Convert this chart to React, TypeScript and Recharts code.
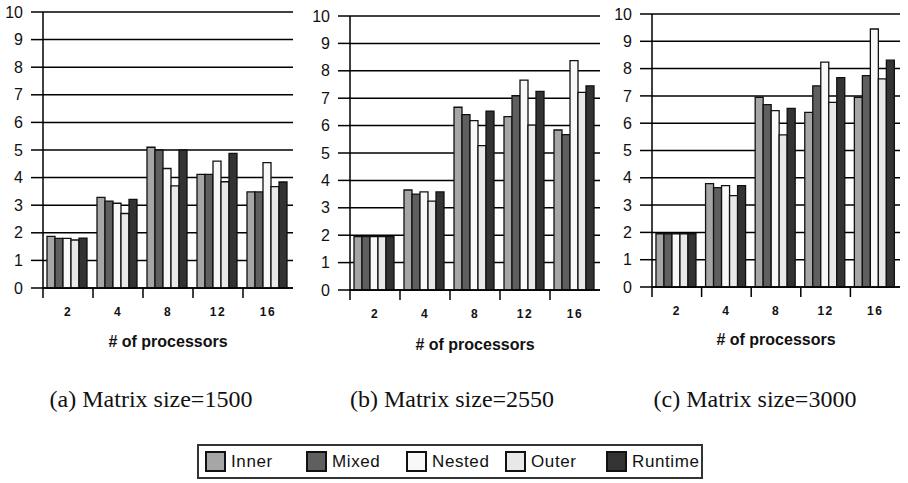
import React from "react";
import { BarChart, Bar, XAxis, YAxis, CartesianGrid, Label } from "recharts";

const PROCESSORS = ["2", "4", "8", "12", "16"];
const SERIES = ["Inner", "Mixed", "Nested", "Outer", "Runtime"];
const COLORS = ["#a6a6a6", "#5f5f5f", "#f8f8f8", "#e8e8e8", "#333333"];
const Y_TICKS = [0, 1, 2, 3, 4, 5, 6, 7, 8, 9, 10];

// Matrix size 1500
const INNER_1500 = [1.87, 3.28, 5.1, 4.12, 3.48];
const MIXED_1500 = [1.8, 3.15, 5.0, 4.12, 3.48];
const NESTED_1500 = [1.8, 3.07, 4.33, 4.6, 4.54];
const OUTER_1500 = [1.74, 2.7, 3.7, 3.85, 3.67];
const RUNTIME_1500 = [1.81, 3.21, 5.0, 4.88, 3.84];

// Matrix size 2550
const INNER_2550 = [1.95, 3.65, 6.67, 6.33, 5.84];
const MIXED_2550 = [1.95, 3.5, 6.4, 7.09, 5.67];
const NESTED_2550 = [1.95, 3.58, 6.18, 7.66, 8.37];
const OUTER_2550 = [1.95, 3.24, 5.27, 6.02, 7.21];
const RUNTIME_2550 = [1.95, 3.58, 6.53, 7.25, 7.45];

// Matrix size 3000
const INNER_3000 = [1.95, 3.79, 6.95, 6.4, 6.95];
const MIXED_3000 = [1.95, 3.64, 6.68, 7.37, 7.74];
const NESTED_3000 = [1.95, 3.71, 6.46, 8.24, 9.45];
const OUTER_3000 = [1.95, 3.35, 5.57, 6.76, 7.62];
const RUNTIME_3000 = [1.95, 3.71, 6.54, 7.67, 8.31];

const rows = (cols: number[][]) =>
  PROCESSORS.map((p, i) => {
    const row: Record<string, string | number> = { p };
    SERIES.forEach((s, k) => (row[s] = cols[k][i]));
    return row;
  });

const PANELS = [
  {
    caption: "(a) Matrix size=1500",
    data: rows([INNER_1500, MIXED_1500, NESTED_1500, OUTER_1500, RUNTIME_1500]),
    left: 0, width: 300, top: 12, bottom: 288, labelOffset: 13, captionX: 151,
  },
  {
    caption: "(b) Matrix size=2550",
    data: rows([INNER_2550, MIXED_2550, NESTED_2550, OUTER_2550, RUNTIME_2550]),
    left: 307, width: 300, top: 16, bottom: 290, labelOffset: 10, captionX: 452,
  },
  {
    caption: "(c) Matrix size=3000",
    data: rows([INNER_3000, MIXED_3000, NESTED_3000, OUTER_3000, RUNTIME_3000]),
    left: 609, width: 298, top: 14, bottom: 287, labelOffset: 15, captionX: 755,
  },
];

const CHART_H = 360;
const AXIS_W = 43;
const RIGHT_M = 7;
const FONT = "'Liberation Sans', Arial, sans-serif";

const ProcTick = ({ x, payload, step, base }: any) => (
  <g>
    <line x1={x - step / 2} x2={x - step / 2} y1={base} y2={base + 10} stroke="#000" strokeWidth={1.5} />
    <text x={x} y={base + 28} textAnchor="middle" fontSize={12} fontWeight="bold" letterSpacing={1.5} fill="#111" fontFamily={FONT}>
      {payload.value}
    </text>
  </g>
);

const Panel = ({ panel }: any) => {
  const plotW = panel.width - AXIS_W - RIGHT_M;
  const step = plotW / PROCESSORS.length;
  return (
    <div style={{ position: "absolute", left: panel.left, top: 0 }}>
      <BarChart
        width={panel.width}
        height={CHART_H}
        data={panel.data}
        margin={{ top: panel.top, right: RIGHT_M, bottom: 0, left: 0 }}
        barCategoryGap="8%"
        barGap={0}
      >
        <CartesianGrid vertical={false} stroke="#000" strokeWidth={1.5} />
        <XAxis
          dataKey="p"
          height={CHART_H - panel.bottom}
          interval={0}
          axisLine={{ stroke: "#000", strokeWidth: 1.5 }}
          tickLine={false}
          tick={(p: any) => <ProcTick {...p} step={step} base={panel.bottom} />}
        >
          <Label
            value="# of processors"
            position="insideBottom"
            offset={panel.labelOffset}
            style={{ fontSize: 16, fontWeight: "bold", fill: "#111", fontFamily: FONT }}
          />
        </XAxis>
        <YAxis
          width={AXIS_W}
          domain={[0, 10]}
          ticks={Y_TICKS}
          interval={0}
          tickSize={12}
          tickMargin={8}
          axisLine={{ stroke: "#000", strokeWidth: 1.5 }}
          tickLine={{ stroke: "#000", strokeWidth: 1.5 }}
          tick={{ fontSize: 16, fill: "#111", fontFamily: FONT }}
        />
        {SERIES.map((s, k) => (
          <Bar key={s} dataKey={s} fill={COLORS[k]} stroke="#111" strokeWidth={1.3} isAnimationActive={false} />
        ))}
      </BarChart>
      <div
        style={{
          position: "absolute",
          top: 387,
          left: panel.captionX - panel.left - 130,
          width: 260,
          textAlign: "center",
          fontFamily: "'Liberation Serif', 'Times New Roman', serif",
          fontSize: 24,
          lineHeight: "24px",
          color: "#111",
        }}
      >
        {panel.caption}
      </div>
    </div>
  );
};

const LEGEND_X = [6, 107, 207, 306, 407];

export default function App() {
  return (
    <div style={{ position: "absolute", left: 0, top: 0, width: 908, height: 483, background: "#fff" }}>
      {PANELS.map((panel) => (
        <Panel key={panel.caption} panel={panel} />
      ))}
      <div
        style={{
          position: "absolute",
          left: 197,
          top: 444,
          width: 506,
          height: 35,
          boxSizing: "border-box",
          border: "2px solid #333",
          fontFamily: FONT,
          fontSize: 17,
          letterSpacing: 0.6,
          color: "#111",
        }}
      >
        {SERIES.map((s, k) => (
          <div key={s} style={{ position: "absolute", left: LEGEND_X[k], top: 5, display: "flex", alignItems: "center", height: 21 }}>
            <span
              style={{
                display: "inline-block",
                width: 17,
                height: 17,
                background: COLORS[k],
                border: "2px solid #111",
                marginRight: 5,
              }}
            />
            <span>{s}</span>
          </div>
        ))}
      </div>
    </div>
  );
}
